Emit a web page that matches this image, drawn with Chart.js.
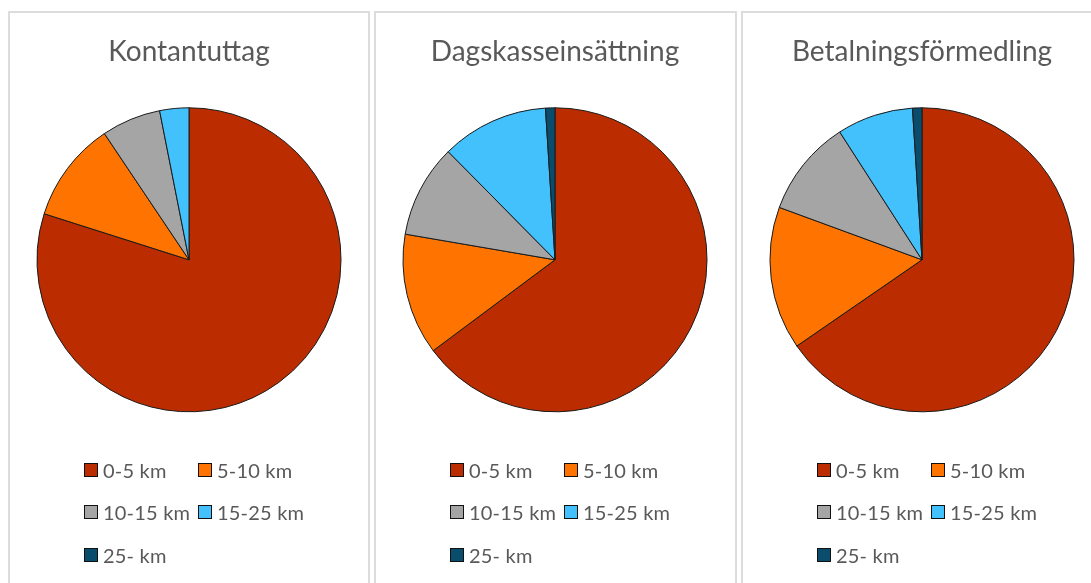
<!DOCTYPE html>
<html>
<head>
<meta charset="utf-8">
<script src="https://cdn.jsdelivr.net/npm/chart.js@4.4.1/dist/chart.umd.min.js"></script>
<style>
  html, body { margin: 0; padding: 0; background: #fff; width: 1091px; height: 583px; overflow: hidden; }
  .panel { position: absolute; top: 11px; height: 620px; border: 2px solid #dcdcdc; box-sizing: border-box; background: #fff; overflow: hidden; }
  .panel canvas { position: absolute; left: 0; top: 0; }
  .legend { position: absolute; left: 0; top: 0; width: 100%; height: 100%; pointer-events: none; }
  .li { position: absolute; display: flex; align-items: center; height: 20px; font-family: Lato, "Open Sans", sans-serif; font-size: 20px; letter-spacing: 0.2px; color: #595959; white-space: nowrap; }
  .li .box { width: 12px; height: 12px; border: 1px solid #111; margin-right: 5px; flex: none; }
</style>
</head>
<body>
<div class="panel" id="p0" style="left:8px;width:362px;"><canvas id="c0"></canvas><div class="legend" id="l0"></div></div>
<div class="panel" id="p1" style="left:374px;width:363px;"><canvas id="c1"></canvas><div class="legend" id="l1"></div></div>
<div class="panel" id="p2" style="left:741px;width:362px;"><canvas id="c2"></canvas><div class="legend" id="l2"></div></div>
<script>
// ---- data ----
const categories = ['0-5 km', '5-10 km', '10-15 km', '15-25 km', '25- km'];
const titles = ['Kontantuttag', 'Dagskasseinsättning', 'Betalningsförmedling'];
const kontantuttag = [79.9, 10.7, 6.3, 3.1, 0];
const dagskasseinsattning = [64.8, 12.9, 9.9, 11.4, 1.0];
const betalningsformedling = [65.4, 15.2, 10.3, 8.1, 1.0];
const sliceColors = ['#BB2D00', '#FF7400', '#A5A5A5', '#42C1FC', '#094C6C'];

const seriesList = [kontantuttag, dagskasseinsattning, betalningsformedling];

const htmlLegend = {
  id: 'htmlLegend',
  afterUpdate(chart, args, opts) {
    const host = document.getElementById(opts.containerID);
    host.innerHTML = '';
    const items = chart.options.plugins.legend.labels.generateLabels(chart);
    const rowsY = [447, 489, 532];
    items.forEach((item, i) => {
      const row = Math.floor(i / 2), col = i % 2;
      const el = document.createElement('div');
      el.className = 'li';
      el.style.left = (74 + col * 114) + 'px';
      el.style.top = rowsY[row] + 'px';
      const box = document.createElement('span');
      box.className = 'box';
      box.style.background = item.fillStyle;
      const txt = document.createElement('span');
      txt.textContent = item.text;
      el.appendChild(box);
      el.appendChild(txt);
      host.appendChild(el);
    });
  }
};

seriesList.forEach((values, idx) => {
  const canvas = document.getElementById('c' + idx);
  canvas.width = 358; canvas.height = 570;
  canvas.style.width = '358px'; canvas.style.height = '570px';
  new Chart(canvas, {
    type: 'pie',
    data: {
      labels: categories,
      datasets: [{
        data: values,
        backgroundColor: sliceColors,
        borderColor: '#1a1a1a',
        borderWidth: 1
      }]
    },
    options: {
      responsive: false,
      animation: false,
      radius: 152,
      layout: { padding: { bottom: 132, top: 0, left: 0, right: 0 } },
      plugins: {
        title: {
          display: true,
          text: titles[idx],
          color: '#595959',
          font: { family: 'Lato', size: 28, weight: 'normal' },
          padding: { top: 22, bottom: 0 }
        },
        legend: { display: false },
        tooltip: { enabled: false },
        htmlLegend: { containerID: 'l' + idx }
      }
    },
    plugins: [htmlLegend]
  });
});
</script>
</body>
</html>
